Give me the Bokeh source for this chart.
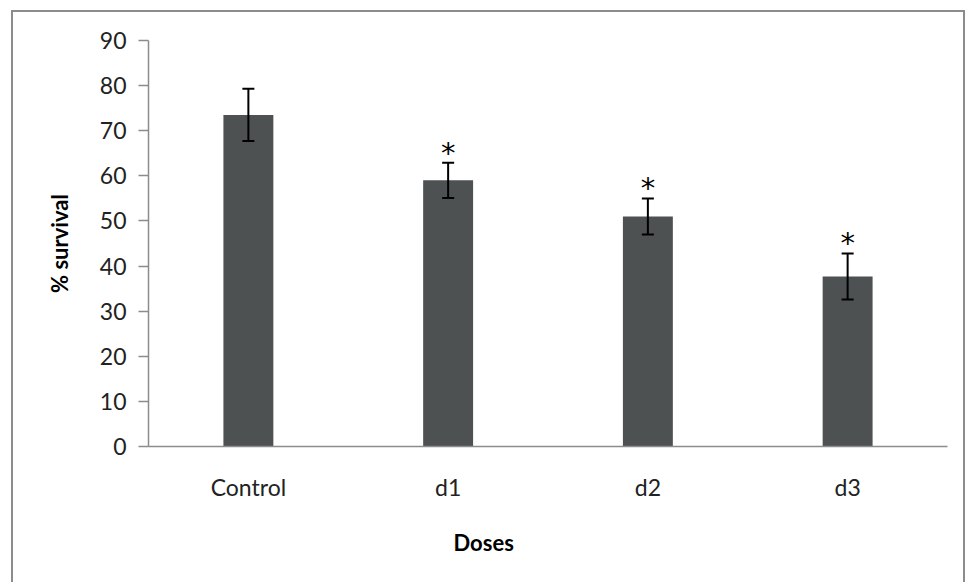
from bokeh.plotting import figure
from bokeh.models import ColumnDataSource, Range1d, FactorRange, Whisker, TeeHead, Title, FixedTicker
from bokeh.core.properties import value
from bokeh.embed import file_html
from bokeh.resources import INLINE

categories = ["Control", "d1", "d2", "d3"]
survival = [73.5, 59.0, 51.0, 37.7]
sd = [5.8, 3.9, 4.0, 5.1]
marks = ["", "*", "*", "*"]
y_ticks = [0, 10, 20, 30, 40, 50, 60, 70, 80, 90]

FONT = "Lato"

src = ColumnDataSource(dict(
    cat=categories,
    val=survival,
    upper=[v + e for v, e in zip(survival, sd)],
    lower=[v - e for v, e in zip(survival, sd)],
    mark=marks,
))

p = figure(width=954, height=580, x_range=FactorRange(*categories), y_range=Range1d(0, 90),
           output_backend="svg", toolbar_location=None,
           min_border_left=135, min_border_right=20, min_border_top=28, min_border_bottom=146)
p.styles = {"border": "2px solid #8c8c8c", "margin-left": "11px", "margin-top": "10px"}
p.background_fill_color = "white"
p.border_fill_color = "white"
p.outline_line_color = None
p.grid.grid_line_color = None
p.x_range.range_padding = 0

p.vbar(x="cat", top="val", width=0.25, source=src, fill_color="#4d5152", line_color=None)

w = Whisker(base="cat", upper="upper", lower="lower", source=src, line_color="black", line_width=2,
            upper_head=TeeHead(size=12, line_color="black", line_width=2),
            lower_head=TeeHead(size=12, line_color="black", line_width=2), level="overlay")
p.add_layout(w)

p.text(x="cat", y="upper", text="mark", source=src, text_align="center", text_baseline="middle",
       y_offset=-10, text_font=value("DejaVu Sans"), text_font_size=value("29px"), text_color="black")

# axes
p.yaxis.ticker = FixedTicker(ticks=y_ticks)
p.yaxis.axis_line_color = "#8c8c8c"
p.yaxis.axis_line_width = 1.5
p.yaxis.major_tick_line_color = "#8c8c8c"
p.yaxis.major_tick_line_width = 1.5
p.yaxis.major_tick_out = 10
p.yaxis.major_tick_in = 0
p.yaxis.minor_tick_line_color = None
p.yaxis.major_label_standoff = 12
p.yaxis.major_label_text_font = FONT
p.yaxis.major_label_text_font_size = "23px"
p.yaxis.major_label_text_color = "#222222"
p.yaxis.axis_label = "% survival"
p.yaxis.axis_label_text_font = FONT
p.yaxis.axis_label_text_font_style = "bold"
p.yaxis.axis_label_text_font_size = "22px"
p.yaxis.axis_label_text_color = "black"
p.yaxis.axis_label_standoff = 24

p.xaxis.axis_line_color = "#8c8c8c"
p.xaxis.axis_line_width = 1.5
p.xaxis.major_tick_line_color = None
p.xaxis.minor_tick_line_color = None
p.xaxis.major_label_standoff = 20
p.xaxis.major_label_text_font = FONT
p.xaxis.major_label_text_font_size = "23px"
p.xaxis.major_label_text_color = "#222222"

p.add_layout(Title(text="Doses", align="left", offset=305, standoff=46, text_font=FONT,
                   text_font_style="bold", text_font_size="22px", text_color="black"), "below")

open("out.html", "w").write(file_html(p, INLINE))
